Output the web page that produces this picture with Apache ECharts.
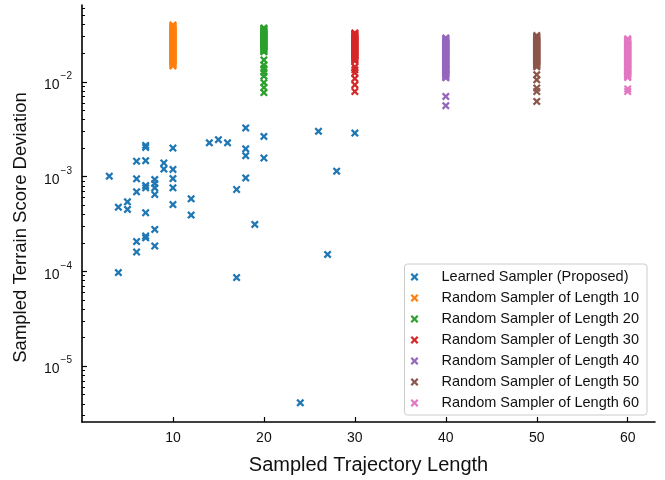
<!DOCTYPE html>
<html>
<head>
<meta charset="utf-8">
<script src="https://cdn.jsdelivr.net/npm/echarts@6/dist/echarts.min.js"></script>
<style>
  html, body { margin: 0; padding: 0; background: #fff; }
  #chart { width: 665px; height: 480px; }
</style>
</head>
<body>
<div id="chart"></div>
<script>
// learned sampler: trajectory length vs deviation
const learnedX = [3, 4, 4, 5, 5, 6, 6, 6, 6, 6, 7, 7, 7, 7, 7, 7, 7, 7, 8, 8, 8, 8, 8, 8,
  9, 9, 10, 10, 10, 10, 10, 12, 12, 14, 15, 16, 17, 17, 18, 18, 18, 18, 19, 20, 20, 24, 26, 27, 28, 30];
const learnedY = [1.01e-3, 4.75e-4, 9.7e-5, 5.42e-4, 4.5e-4, 1.45e-3, 9.46e-4, 6.9e-4, 2.06e-4, 1.6e-4,
  2.13e-3, 2.03e-3, 1.47e-3, 8.04e-4, 7.6e-4, 4.15e-4, 2.36e-4, 2.26e-4,
  9.29e-4, 8.43e-4, 7.6e-4, 6.47e-4, 2.77e-4, 1.85e-4,
  1.39e-3, 1.2e-3, 2.0e-3, 1.19e-3, 9.53e-4, 7.6e-4, 5.07e-4, 5.82e-4, 3.92e-4,
  2.27e-3, 2.45e-3, 2.27e-3, 7.3e-4, 8.6e-5, 3.26e-3, 1.96e-3, 1.66e-3, 9.68e-4, 3.13e-4,
  2.65e-3, 1.57e-3, 4.1e-6, 3.0e-3, 1.51e-4, 1.14e-3, 2.88e-3];

// random samplers, one list of deviations per length
const randomLengths = [10, 20, 30, 40, 50, 60];
const rand10 = [0.0398, 0.0388, 0.0379, 0.0370, 0.0361, 0.0352, 0.0344, 0.0336, 0.0328, 0.0320,
  0.0313, 0.0305, 0.0298, 0.0291, 0.0284, 0.0277, 0.0270, 0.0264, 0.0258, 0.0251, 0.0245, 0.0240,
  0.0234, 0.0228, 0.0223, 0.0217, 0.0212, 0.0207, 0.0202, 0.0197, 0.0192, 0.0188, 0.0183, 0.0179,
  0.0175, 0.0170, 0.0166, 0.0162, 0.0158, 0.0155, 0.0151, 0.0147];
const rand20 = [0.0370, 0.0361, 0.0352, 0.0344, 0.0336, 0.0328, 0.0320, 0.0313, 0.0305, 0.0298,
  0.0291, 0.0284, 0.0277, 0.0270, 0.0264, 0.0258, 0.0251, 0.0245, 0.0240, 0.0234, 0.0228, 0.0223,
  0.0217, 0.0212, 0.0207, 0.0170, 0.0150, 0.0138, 0.0126, 0.0115, 0.0098, 0.0087, 0.0077];
const rand30 = [0.0328, 0.0320, 0.0313, 0.0305, 0.0298, 0.0291, 0.0284, 0.0277, 0.0270, 0.0264,
  0.0258, 0.0251, 0.0245, 0.0240, 0.0234, 0.0228, 0.0223, 0.0217, 0.0212, 0.0207, 0.0202, 0.0197,
  0.0192, 0.0188, 0.0183, 0.0179, 0.0175, 0.0170, 0.0166, 0.0144, 0.0134, 0.0124, 0.0108, 0.0093, 0.0079];
const rand40 = [0.0290, 0.0284, 0.0277, 0.0270, 0.0264, 0.0258, 0.0251, 0.0245, 0.0240, 0.0234,
  0.0228, 0.0223, 0.0217, 0.0212, 0.0207, 0.0202, 0.0197, 0.0192, 0.0188, 0.0183, 0.0179, 0.0175,
  0.0170, 0.0166, 0.0162, 0.0158, 0.0155, 0.0151, 0.0148, 0.0144, 0.0140, 0.0137, 0.0134, 0.0131,
  0.0128, 0.0124, 0.0121, 0.0119, 0.0116, 0.0113, 0.0110, 0.0070, 0.0056];
const rand50 = [0.0307, 0.0298, 0.0291, 0.0284, 0.0277, 0.0270, 0.0264, 0.0258, 0.0251, 0.0245,
  0.0240, 0.0234, 0.0228, 0.0223, 0.0217, 0.0212, 0.0207, 0.0202, 0.0197, 0.0192, 0.0188, 0.0183,
  0.0179, 0.0175, 0.0170, 0.0166, 0.0162, 0.0158, 0.0155, 0.0151, 0.0148, 0.0144,
  0.0119, 0.0105, 0.0086, 0.0079, 0.0062];
const rand60 = [0.0284, 0.0277, 0.0270, 0.0264, 0.0258, 0.0251, 0.0245, 0.0240, 0.0234, 0.0228,
  0.0223, 0.0217, 0.0212, 0.0207, 0.0202, 0.0197, 0.0192, 0.0188, 0.0183, 0.0179, 0.0175, 0.0170,
  0.0166, 0.0162, 0.0158, 0.0155, 0.0151, 0.0148, 0.0144, 0.0140, 0.0137, 0.0134, 0.0131, 0.0128,
  0.0124, 0.0121, 0.0119, 0.0116, 0.0113, 0.0111, 0.0084, 0.0079];
const randomValues = [rand10, rand20, rand30, rand40, rand50, rand60];

const seriesNames = ['Learned Sampler (Proposed)', 'Random Sampler of Length 10',
  'Random Sampler of Length 20', 'Random Sampler of Length 30', 'Random Sampler of Length 40',
  'Random Sampler of Length 50', 'Random Sampler of Length 60'];
const colors = ['#1f77b4', '#ff7f0e', '#2ca02c', '#d62728', '#9467bd', '#8c564b', '#e377c2'];

const xTicks = [10, 20, 30, 40, 50, 60];
const yMajorTicks = [1e-5, 1e-4, 1e-3, 1e-2];

const Y_MIN = 2.573e-6;
const Y_MAX = 0.0646;
const X_MARK = 'path://M2,0L5,3L8,0L10,2L7,5L10,8L8,10L5,7L2,10L0,8L3,5L0,2Z';
const FONT = 'Liberation Sans';

// minor log ticks at 2..9 of each decade
const yMinorTicks = [];
for (let e = -6; e <= -2; e++) {
  for (let m = 2; m <= 9; m++) {
    const v = m * Math.pow(10, e);
    if (v > Y_MIN && v < Y_MAX) yMinorTicks.push(v);
  }
}

const chart = echarts.init(document.getElementById('chart'));

const series = [{
  name: seriesNames[0],
  type: 'scatter',
  symbol: X_MARK,
  symbolSize: 8,
  itemStyle: {color: colors[0], opacity: 1},
  data: learnedX.map((x, i) => [x, learnedY[i]])
}];
randomValues.forEach((vals, k) => {
  series.push({
    name: seriesNames[k + 1],
    type: 'scatter',
    symbol: X_MARK,
    symbolSize: 8,
    itemStyle: {color: colors[k + 1], opacity: 1},
    data: vals.map(v => [randomLengths[k], v])
  });
});

const option = {
  animation: false,
  textStyle: {fontFamily: FONT},
  grid: {left: 82, right: 10, top: 5, bottom: 57},
  xAxis: {
    type: 'value',
    min: 0,
    max: 63,
    name: 'Sampled Trajectory Length',
    nameLocation: 'middle',
    nameGap: 33,
    nameTextStyle: {fontSize: 20, color: '#111', fontFamily: FONT},
    axisLine: {lineStyle: {color: '#000', width: 1.6}},
    axisTick: {inside: true, length: 5, customValues: xTicks, lineStyle: {color: '#000', width: 1.2}},
    axisLabel: {customValues: xTicks, margin: 9, fontSize: 14, color: '#111', fontFamily: FONT},
    splitLine: {show: false}
  },
  yAxis: [{
    type: 'log',
    logBase: 10,
    min: Y_MIN,
    max: Y_MAX,
    name: 'Sampled Terrain Score Deviation',
    nameLocation: 'middle',
    nameGap: 52,
    nameTextStyle: {fontSize: 18.5, color: '#111', fontFamily: FONT, padding: [0, 28, 0, 0]},
    axisLine: {show: true, lineStyle: {color: '#000', width: 1.6}},
    axisTick: {inside: true, length: 5, customValues: yMajorTicks, lineStyle: {color: '#000', width: 1.2}},
    axisLabel: {
      customValues: yMajorTicks,
      margin: 10,
      formatter: v => '{b|10}{e|\u2212' + (-Math.round(Math.log10(v))) + '}',
      rich: {
        b: {fontSize: 14, color: '#111', fontFamily: FONT, padding: [7, 0, 0, 0]},
        e: {fontSize: 10, color: '#111', fontFamily: FONT, verticalAlign: 'top', padding: [0, 0, 0, 1]}
      }
    },
    splitLine: {show: false}
  }, {
    type: 'log',
    logBase: 10,
    min: Y_MIN,
    max: Y_MAX,
    position: 'left',
    axisLine: {show: false},
    axisTick: {inside: true, length: 3, customValues: yMinorTicks, lineStyle: {color: '#000', width: 1}},
    axisLabel: {show: false},
    splitLine: {show: false}
  }],
  legend: {
    orient: 'vertical',
    right: 18,
    bottom: 65,
    icon: X_MARK,
    itemWidth: 30,
    itemHeight: 8,
    itemGap: 5,
    padding: [5, 8, 4, 6],
    backgroundColor: 'rgba(255,255,255,0.8)',
    borderColor: '#cccccc',
    borderWidth: 1,
    borderRadius: 3,
    textStyle: {fontSize: 14.5, lineHeight: 16, color: '#111', fontFamily: FONT, padding: [0, 0, 0, 7]},
    data: seriesNames
  },
  series: series
};

chart.setOption(option);
</script>
</body>
</html>
